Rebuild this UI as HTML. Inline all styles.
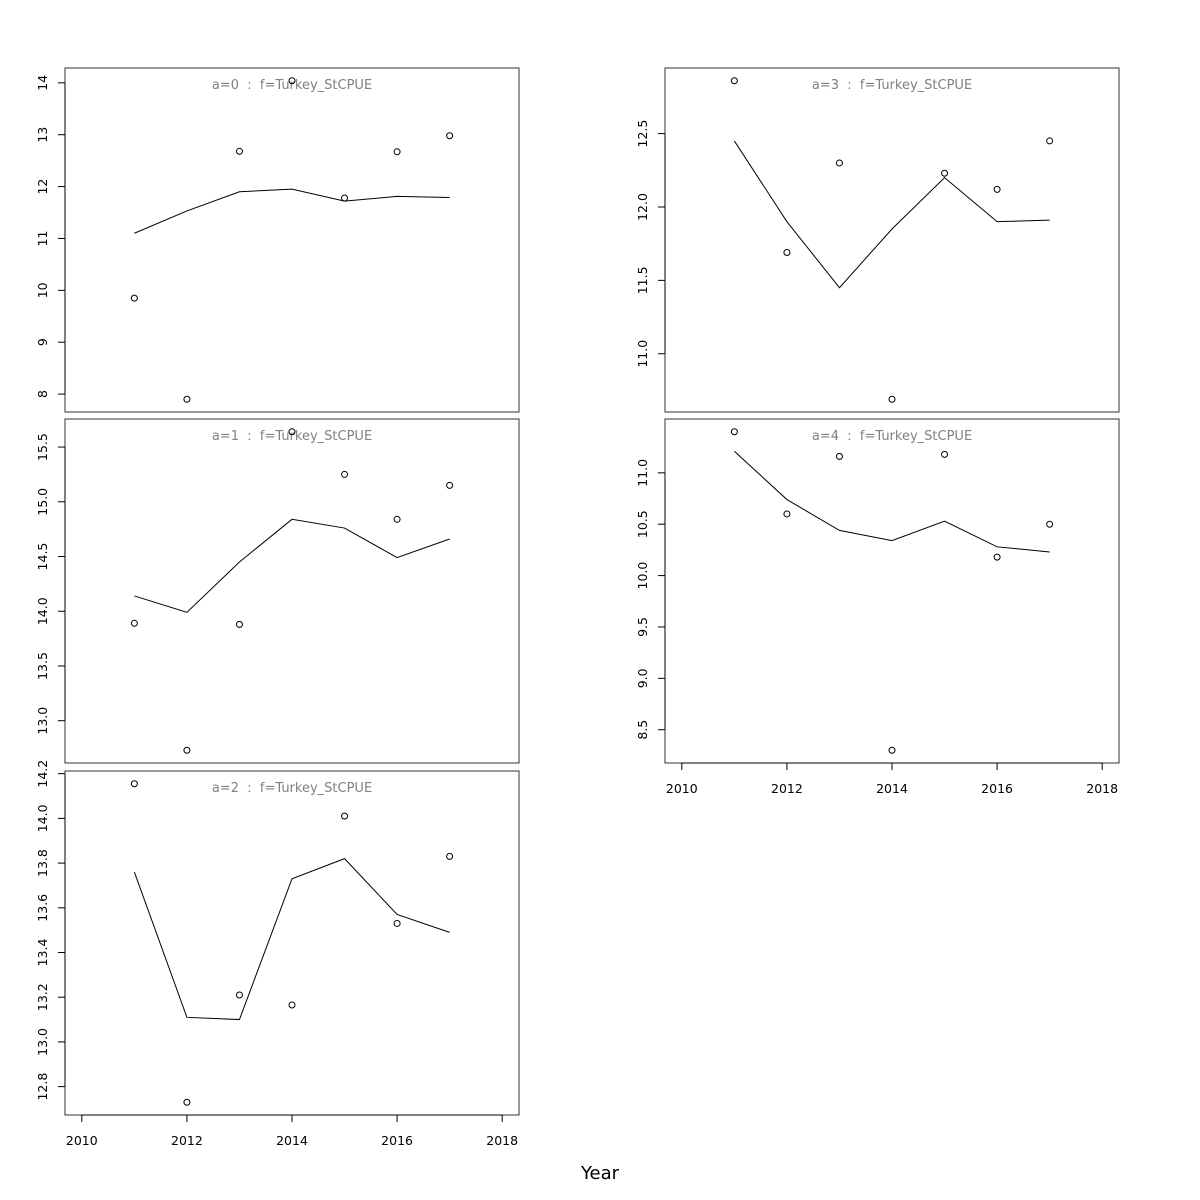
<!DOCTYPE html>
<html><head><meta charset="utf-8">
<style>
html,body{margin:0;padding:0;background:#fff;}
svg{display:block;font-family:"DejaVu Sans","Liberation Sans",sans-serif;}
text{white-space:pre;}
</style></head>
<body>
<svg id="chart" width="1200" height="1200" viewBox="0 0 1200 1200" xmlns="http://www.w3.org/2000/svg">
<rect width="1200" height="1200" fill="#fff"/>
<text x="600" y="1179" font-size="18" text-anchor="middle" fill="#000">Year</text>
</svg>
<script>
const years = [2011,2012,2013,2014,2015,2016,2017];
const xTicks = [2010,2012,2014,2016,2018];
const panelTitles = ["a=0  :  f=Turkey_StCPUE","a=1  :  f=Turkey_StCPUE","a=2  :  f=Turkey_StCPUE","a=3  :  f=Turkey_StCPUE","a=4  :  f=Turkey_StCPUE"];
const obsA0 = [9.85,7.9,12.68,14.04,11.78,12.67,12.98];
const fitA0 = [11.1,11.53,11.9,11.95,11.72,11.81,11.79];
const obsA1 = [13.89,12.73,13.88,15.64,15.25,14.84,15.15];
const fitA1 = [14.14,13.99,14.45,14.84,14.76,14.49,14.66];
const obsA2 = [14.155,12.73,13.21,13.165,14.01,13.53,13.83];
const fitA2 = [13.76,13.11,13.10,13.73,13.82,13.57,13.49];
const obsA3 = [12.86,11.69,12.30,10.69,12.23,12.12,12.45];
const fitA3 = [12.45,11.90,11.45,11.85,12.20,11.90,11.91];
const obsA4 = [11.40,10.60,11.16,8.30,11.18,10.18,10.50];
const fitA4 = [11.21,10.74,10.44,10.34,10.53,10.28,10.23];
const yTicksA0 = [8,9,10,11,12,13,14];
const yTicksA1 = [13.0,13.5,14.0,14.5,15.0,15.5];
const yTicksA2 = [12.8,13.0,13.2,13.4,13.6,13.8,14.0,14.2];
const yTicksA3 = [11.0,11.5,12.0,12.5];
const yTicksA4 = [8.5,9.0,9.5,10.0,10.5,11.0];

const svg = document.getElementById('chart');
const NS = 'http://www.w3.org/2000/svg';
function mk(tag, attrs){const e=document.createElementNS(NS,tag);for(const k in attrs)e.setAttribute(k,attrs[k]);svg.appendChild(e);return e;}

const panels = [
 {obs:obsA0,fit:fitA0,ticks:yTicksA0,x0:65,y0:68,dec:0,xaxis:false},
 {obs:obsA1,fit:fitA1,ticks:yTicksA1,x0:65,y0:419,dec:1,xaxis:false},
 {obs:obsA2,fit:fitA2,ticks:yTicksA2,x0:65,y0:771,dec:1,xaxis:true},
 {obs:obsA3,fit:fitA3,ticks:yTicksA3,x0:665,y0:68,dec:1,xaxis:false},
 {obs:obsA4,fit:fitA4,ticks:yTicksA4,x0:665,y0:419,dec:1,xaxis:true}
];
const W=454,H=344;
panels.forEach((p,i)=>{
  const all=p.obs.concat(p.fit);
  let mn=Math.min(...all),mx=Math.max(...all),r=mx-mn;
  const ylo=mn-0.04*r,yhi=mx+0.04*r;
  const xlo=2010-0.32,xhi=2018+0.32;
  const sx=v=>p.x0+(v-xlo)/(xhi-xlo)*W;
  const sy=v=>p.y0+H-(v-ylo)/(yhi-ylo)*H;
  const box=mk('rect',{x:p.x0,y:p.y0,width:W,height:H,fill:'none',stroke:'#333','stroke-width':1});
  
  
  const t=mk('text',{x:p.x0+W/2,y:p.y0+21,'font-size':13,'text-anchor':'middle',fill:'#808080'});
  t.textContent=panelTitles[i];
  
  
  const vt=p.ticks.filter(v=>v>=ylo&&v<=yhi);
  const yl=mk('line',{x1:p.x0,x2:p.x0,y1:sy(vt[0]),y2:sy(vt[vt.length-1]),stroke:'#000'});
  
  
  vt.forEach(v=>{
    const tk=mk('line',{x1:p.x0-7,x2:p.x0,y1:sy(v),y2:sy(v),stroke:'#000'});
    
    
    const lb=mk('text',{x:0,y:0,'font-size':12.5,'text-anchor':'middle',fill:'#000',transform:`translate(${p.x0-18},${sy(v)}) rotate(-90)`});
    lb.textContent=v.toFixed(p.dec);
    
    
  });
  if(p.xaxis){
    const xl=mk('line',{x1:sx(2010),x2:sx(2018),y1:p.y0+H,y2:p.y0+H,stroke:'#000'});
    
    
    xTicks.forEach(v=>{
      const tk=mk('line',{x1:sx(v),x2:sx(v),y1:p.y0+H,y2:p.y0+H+7,stroke:'#000'});
      
      
      const lb=mk('text',{x:sx(v),y:p.y0+H+30,'font-size':12.5,'text-anchor':'middle',fill:'#000'});
      lb.textContent=v;
      
      
    });
  }
  const pl=mk('polyline',{points:years.map((y,j)=>sx(y)+','+sy(p.fit[j])).join(' '),fill:'none',stroke:'#000','stroke-width':1});
  
  
  years.forEach((y,j)=>{
    const c=mk('circle',{cx:sx(y),cy:sy(p.obs[j]),r:3,fill:'none',stroke:'#000','stroke-width':1});
    
    
  });
});
</script>
</body></html>
